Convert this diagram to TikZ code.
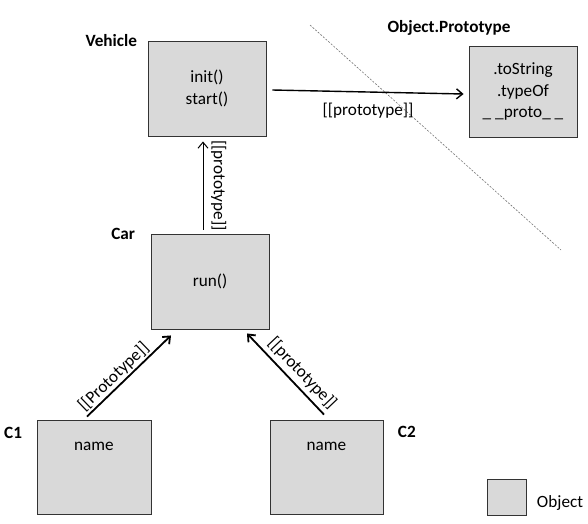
\documentclass[tikz,border=0pt]{standalone}
\usepackage{fontspec}
\setmainfont{Carlito}
\usepackage{tikz}
\usetikzlibrary{arrows.meta}
\definecolor{boxgray}{HTML}{D9D9D9}
\tikzstyle{object} = [rectangle, minimum width=118pt, minimum height=95pt, align=center, draw=black!80, line width=0.9pt, fill=boxgray, font=\fontsize{17.2}{21.5}\selectfont]
\tikzstyle{title} = [font=\bfseries\fontsize{17.2}{20}\selectfont]
\tikzstyle{textlabel} = [font=\fontsize{17.2}{20}\selectfont]
\tikzstyle{arrow} = [line width=1.3pt,-{Straight Barb[length=6pt,width=10pt]}]
\tikzstyle{divider} = [black!55, line width=0.6pt, dash pattern=on 2pt off 1.5pt]

\begin{document}
\begin{tikzpicture}[x=1pt, y=-1pt]
\useasboundingbox (0,0) rectangle (588,523);
\node (vehicle) [object] at (207,88.5) {init()\\start()};
\node (proto) [object, minimum width=108pt, minimum height=91pt] at (523,91.5) {.toString\\.typeOf\\\_ \_proto\_ \_};
\node (car) [object] at (210,281.5) {run()};
\node (c1) [object, minimum width=114pt, minimum height=94pt] at (94,467) {};
\node (c2) [object, minimum width=113pt, minimum height=94pt] at (326.5,467) {};
\node (legend) [object, minimum width=39pt, minimum height=36pt] at (506.5,497) {};

\node (c1name) [textlabel] at ([yshift=-27pt]c1.north) {name};
\node (c2name) [textlabel] at ([yshift=-27pt]c2.north) {name};

\node (vehiclelabel) [title, anchor=east] at ([xshift=-7pt]vehicle.north west) {Vehicle};
\node (carlabel) [title, anchor=east] at ([xshift=-12pt]car.north west) {Car};
\node (c1label) [title, anchor=east] at ([xshift=-11pt,yshift=-13pt]c1.north west) {C1};
\node (c2label) [title, anchor=west] at ([xshift=11pt,yshift=-12pt]c2.north east) {C2};
\node (protolabel) [title] at (449,28) {Object.Prototype};
\node (legendlabel) [textlabel, anchor=west] at ([xshift=7pt,yshift=-6pt]legend.east) {Object};

\draw [divider] (310,25) -- (561,250);

\draw [arrow, line width=1.4pt] ([xshift=6pt,yshift=-1.5pt]vehicle.east) -- node (vehicleprotolabel) [textlabel, below=7pt] {[[prototype]]} ([xshift=-5pt,yshift=-2.5pt]proto.west);
\draw [arrow, line width=1pt] ([xshift=-7pt,yshift=4pt]car.north) -- node (carvehiclelabel) [textlabel, rotate=-90, anchor=south, inner sep=7.5pt] {[[prototype]]} ([xshift=-4pt,yshift=-5pt]vehicle.south);
\draw [arrow, line width=1.8pt] ([xshift=-7pt,yshift=3pt]c1.north) -- node (c1carlabel) [textlabel, sloped, above, pos=0.4, inner sep=1.5pt] {[[Prototype]]} ([xshift=-39pt,yshift=-6pt]car.south);
\draw [arrow, line width=1.8pt] ([xshift=-2.5pt,yshift=5pt]c2.north) -- node (c2carlabel) [textlabel, sloped, above, pos=0.4, inner sep=4pt] {[[prototype]]} ([xshift=37pt,yshift=-4pt]car.south);
\end{tikzpicture}
\end{document}
